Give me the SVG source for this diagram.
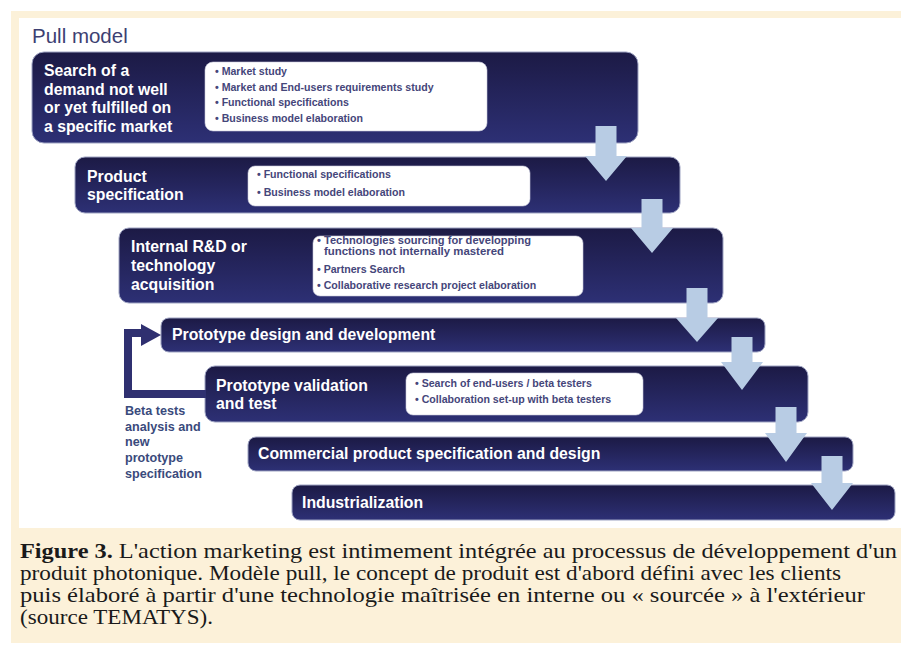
<svg xmlns="http://www.w3.org/2000/svg" width="901" height="653" viewBox="0 0 901 653">
<defs>
<linearGradient id="navy" x1="0" y1="0" x2="0" y2="1">
<stop offset="0" stop-color="#1c1a45"/>
<stop offset="1" stop-color="#2d3075"/>
</linearGradient>
<style>
.box{fill:url(#navy);stroke:#9ea3c2;stroke-width:1}
.inner{fill:#ffffff;stroke:#c9cbdc;stroke-width:0.6}
.bt{font-family:"Liberation Sans",Arial,sans-serif;font-weight:bold;font-size:15.8px;fill:#ffffff}
.bl{font-family:"Liberation Sans",Arial,sans-serif;font-weight:bold;font-size:10.6px;fill:#45467a}
.bs{font-family:"Liberation Sans",Arial,sans-serif;font-weight:bold;font-size:10px;fill:#45467a}
.arr{fill:#b8cce4}
.loop{fill:none;stroke:#2f3070;stroke-width:8}
.beta{font-family:"Liberation Sans",Arial,sans-serif;font-weight:bold;font-size:12.6px;fill:#3a4a7c}
.cap{font-family:"Liberation Serif","Times New Roman",serif;font-size:21px;fill:#1a1a1a}
</style>
</defs>
<rect x="0" y="0" width="901" height="653" fill="#ffffff"/>
<rect x="11" y="11" width="890" height="632" fill="#fcf1d9"/>
<rect x="19" y="18" width="882" height="510" fill="#ffffff"/>
<text x="32" y="43" font-family="'Liberation Sans',Arial,sans-serif" font-size="20.5px" fill="#3d3f72">Pull model</text>

<g id="node-search">
<rect class="box" x="32" y="52" width="606" height="91" rx="12"/>
<text class="bt" x="44" y="76">Search of a</text>
<text class="bt" x="44" y="94.5">demand not well</text>
<text class="bt" x="44" y="113">or yet fulfilled on</text>
<text class="bt" x="44" y="131.5">a specific market</text>
<rect class="inner" x="205" y="62" width="282" height="69" rx="8"/>
<text class="bl" x="215" y="75">• Market study</text>
<text class="bl" x="215" y="90.7">• Market and End-users requirements study</text>
<text class="bl" x="215" y="106">• Functional specifications</text>
<text class="bl" x="215" y="121.7">• Business model elaboration</text>
</g>

<g id="node-product-spec">
<rect class="box" x="75" y="157" width="605" height="56" rx="10"/>
<text class="bt" x="87" y="182">Product</text>
<text class="bt" x="87" y="200">specification</text>
<rect class="inner" x="248" y="166" width="282" height="40" rx="7"/>
<text class="bl" x="257" y="178">• Functional specifications</text>
<text class="bl" x="257" y="196">• Business model elaboration</text>
</g>

<g id="node-rnd">
<rect class="box" x="119" y="228" width="604" height="75" rx="10"/>
<text class="bt" x="131" y="252">Internal R&amp;D or</text>
<text class="bt" x="131" y="271">technology</text>
<text class="bt" x="131" y="290">acquisition</text>
<rect class="inner" x="313" y="236" width="270" height="60" rx="7"/>
<text class="bs" x="317" y="244" textLength="214" lengthAdjust="spacingAndGlyphs">• Technologies sourcing for developping</text>
<text class="bs" x="324" y="255" textLength="180" lengthAdjust="spacingAndGlyphs">functions not internally mastered</text>
<text class="bl" x="317" y="273">• Partners Search</text>
<text class="bl" x="317" y="289">• Collaborative research project elaboration</text>
</g>

<g id="node-proto-design">
<rect class="box" x="161" y="318" width="604" height="34" rx="8"/>
<text class="bt" x="172" y="340">Prototype design and development</text>
</g>

<g id="node-proto-validation">
<rect class="box" x="205" y="366" width="603" height="56" rx="10"/>
<text class="bt" x="216" y="391">Prototype validation</text>
<text class="bt" x="216" y="409">and test</text>
<rect class="inner" x="406" y="373" width="237" height="42" rx="7"/>
<text class="bl" x="415" y="387">• Search of end-users / beta testers</text>
<text class="bl" x="415" y="403">• Collaboration set-up with beta testers</text>
</g>

<g id="node-commercial">
<rect class="box" x="248" y="437" width="605" height="34" rx="8"/>
<text class="bt" x="258" y="459">Commercial product specification and design</text>
</g>

<g id="node-industrialization">
<rect class="box" x="292" y="485" width="603" height="35" rx="8"/>
<text class="bt" x="302" y="508">Industrialization</text>
</g>

<g id="connectors">
<polygon class="arr" points="595.5,126 616.5,126 616.5,156 627,156 606,181 585,156 595.5,156"/>
<polygon class="arr" points="641.5,199 662.5,199 662.5,228 673,228 652,253 631,228 641.5,228"/>
<polygon class="arr" points="686.5,288 707.5,288 707.5,318 718,318 697,342 676,318 686.5,318"/>
<polygon class="arr" points="731.5,337 752.5,337 752.5,362 763,362 742,390 721,362 731.5,362"/>
<polygon class="arr" points="775.5,407 796.5,407 796.5,433 807,433 786,462 765,433 775.5,433"/>
<polygon class="arr" points="821.5,456 842.5,456 842.5,483 853,483 832,510 811,483 821.5,483"/>
<polyline class="loop" points="206,394 128,394 128,333 143,333"/>
<polygon fill="#2f3070" points="141,324 161,335 141,346"/>
</g>

<g id="label-beta">
<text class="beta" x="125" y="415">Beta tests</text>
<text class="beta" x="125" y="431">analysis and</text>
<text class="beta" x="125" y="446">new</text>
<text class="beta" x="125" y="462">prototype</text>
<text class="beta" x="125" y="478">specification</text>
</g>

<g id="caption">
<text class="cap" x="20" y="558" textLength="877" lengthAdjust="spacingAndGlyphs"><tspan font-weight="bold">Figure 3.</tspan> L'action marketing est intimement intégrée au processus de développement d'un</text>
<text class="cap" x="20" y="580" textLength="821" lengthAdjust="spacingAndGlyphs">produit photonique. Modèle pull, le concept de produit est d'abord défini avec les clients</text>
<text class="cap" x="20" y="602" textLength="845" lengthAdjust="spacingAndGlyphs">puis élaboré à partir d'une technologie maîtrisée en interne ou « sourcée » à l'extérieur</text>
<text class="cap" x="20" y="624" textLength="193" lengthAdjust="spacingAndGlyphs">(source TEMATYS).</text>
</g>
</svg>
